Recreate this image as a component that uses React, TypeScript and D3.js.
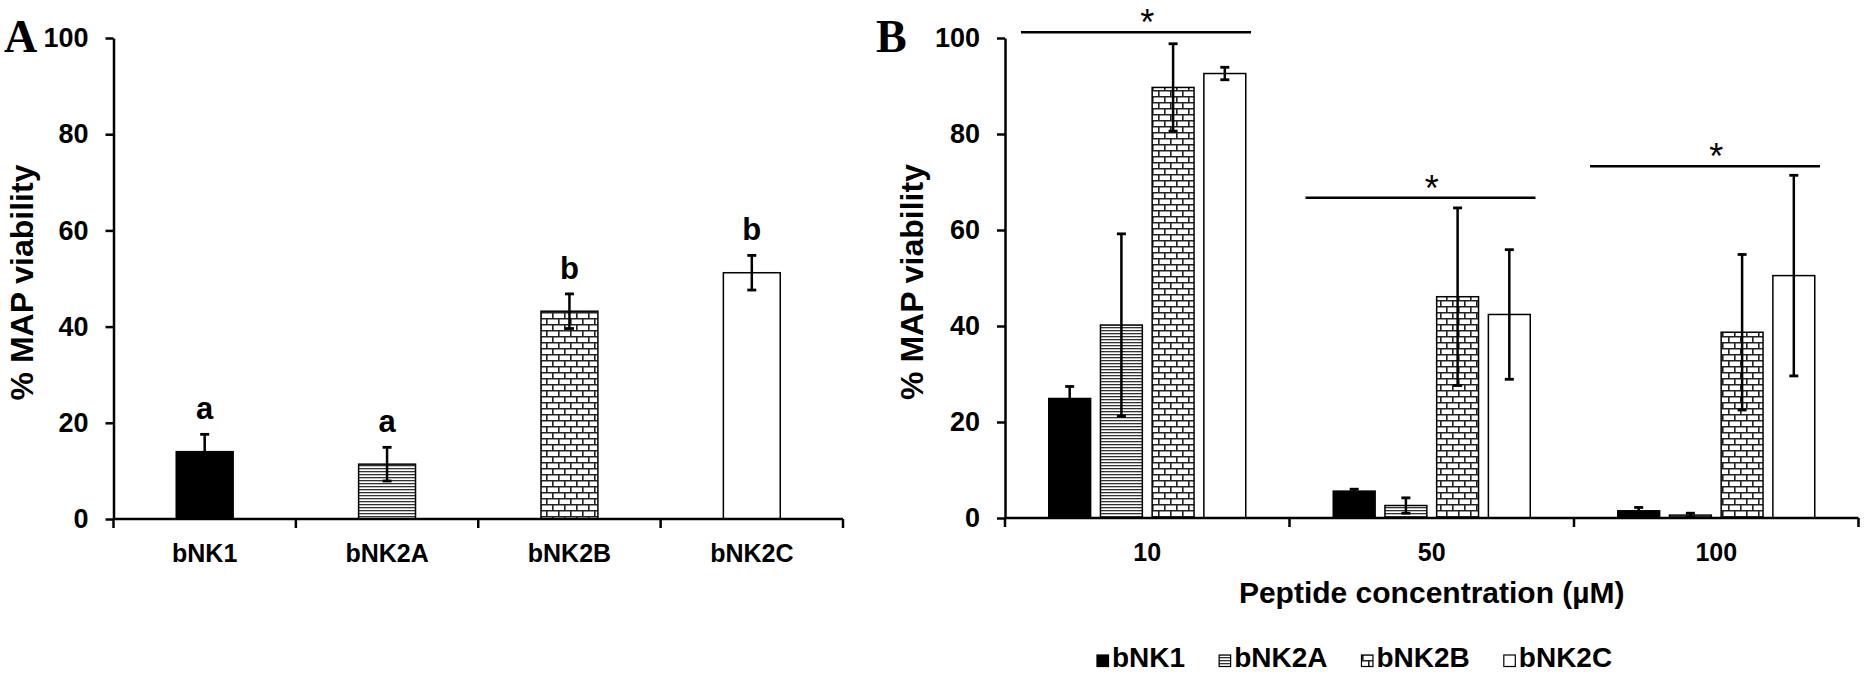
import React, { useEffect, useRef } from "react";
import * as d3 from "d3";

// ---------- Data ----------
const aCategories = ["bNK1", "bNK2A", "bNK2B", "bNK2C"];
const aMeans = [14.0, 11.4, 43.2, 51.2];
const aErrors = [3.6, 3.5, 3.6, 3.6];
const aLetters = ["a", "a", "b", "b"];

const yTicks = [0, 20, 40, 60, 80, 100];

const bConcentrations = ["10", "50", "100"];
const bSeries = ["bNK1", "bNK2A", "bNK2B", "bNK2C"];
const bNK1Means = [24.9, 5.6, 1.5];
const bNK1Errors = [2.5, 0.4, 0.7];
const bNK2AMeans = [40.2, 2.6, 0.6];
const bNK2AErrors = [19.0, 1.6, 0.4];
const bNK2BMeans = [89.7, 46.1, 38.7];
const bNK2BErrors = [9.1, 18.5, 16.2];
const bNK2CMeans = [92.6, 42.4, 50.5];
const bNK2CErrors = [1.3, 13.5, 20.9];
const sigLevels = [101.2, 66.7, 73.3];

const yLabel = "% MAP viability";
const bXLabel = "Peptide concentration (µM)";

const FONT = "'Liberation Sans', Arial, Helvetica, sans-serif";
const SERIF = "'Liberation Serif', 'Times New Roman', serif";

const fills: Record<string, string> = {
  bNK1: "#000",
  bNK2A: "url(#hlines)",
  bNK2B: "url(#bricks)",
  bNK2C: "#fff",
};

export default function App() {
  const ref = useRef<SVGSVGElement | null>(null);

  useEffect(() => {
    const svg = d3.select(ref.current!);
    svg.selectAll("*").remove();

    // patterns
    const defs = svg.append("defs");
    const hl = defs
      .append("pattern")
      .attr("id", "hlines")
      .attr("patternUnits", "userSpaceOnUse")
      .attr("width", 6)
      .attr("height", 3);
    hl.append("rect").attr("width", 6).attr("height", 3).attr("fill", "#fff");
    hl.append("rect").attr("width", 6).attr("height", 1.3).attr("fill", "#333");

    const br = defs
      .append("pattern")
      .attr("id", "bricks")
      .attr("patternUnits", "userSpaceOnUse")
      .attr("width", 12)
      .attr("height", 12);
    br.append("rect").attr("width", 12).attr("height", 12).attr("fill", "#fff");
    const bp = "M0,0.8H12M0,6.8H12M0.8,0V6.8M6.8,6.8V12";
    br.append("path").attr("d", bp).attr("stroke", "#222").attr("stroke-width", 1.6).attr("fill", "none");

    const styleAxis = (g: any) => {
      g.select(".domain").attr("stroke", "#000").attr("stroke-width", 2.5);
      g.selectAll(".tick line").attr("stroke", "#000").attr("stroke-width", 2.5);
      g.selectAll(".tick text")
        .attr("font-family", FONT)
        .attr("font-weight", "bold")
        .attr("font-size", 27)
        .attr("fill", "#000");
      g.attr("font-family", FONT);
    };

    const drawErr = (g: any, cx: number, yTop: number, yBot: number) => {
      g.append("line").attr("x1", cx).attr("x2", cx).attr("y1", yTop).attr("y2", yBot)
        .attr("stroke", "#000").attr("stroke-width", 2.5);
      [yTop, yBot].forEach((yy) =>
        g.append("line").attr("x1", cx - 4.5).attr("x2", cx + 4.5).attr("y1", yy).attr("y2", yy)
          .attr("stroke", "#000").attr("stroke-width", 2.8)
      );
    };

    // ---------------- Panel A ----------------
    const yA = d3.scaleLinear().domain([0, 100]).range([519, 38]);
    const xA = d3
      .scaleBand<string>()
      .domain(aCategories)
      .range([113.5, 843])
      .paddingInner(0.688)
      .paddingOuter(0.344);

    const gA = svg.append("g");
    aCategories.forEach((c, i) => {
      const x = xA(c)!;
      const w = xA.bandwidth();
      gA.append("rect")
        .attr("x", x).attr("y", yA(aMeans[i]))
        .attr("width", w).attr("height", yA(0) - yA(aMeans[i]))
        .attr("fill", fills[c]).attr("stroke", "#000").attr("stroke-width", 1.5);
      drawErr(gA, x + w / 2, yA(aMeans[i] + aErrors[i]), yA(aMeans[i] - aErrors[i]));
      gA.append("text")
        .attr("x", x + w / 2).attr("y", yA(aMeans[i] + aErrors[i]) - 15)
        .attr("text-anchor", "middle").attr("font-family", FONT)
        .attr("font-weight", "bold").attr("font-size", 31).text(aLetters[i]);
      gA.append("text")
        .attr("x", x + w / 2).attr("y", 561.5)
        .attr("text-anchor", "middle").attr("font-family", FONT)
        .attr("font-weight", "bold").attr("font-size", 25).text(c);
    });

    const axA = gA.append("g").attr("transform", "translate(113.5,0)")
      .call(d3.axisLeft(yA).tickValues(yTicks).tickSize(8).tickPadding(17).tickSizeOuter(0));
    styleAxis(axA);

    const [ax0, ax1] = xA.range();
    gA.append("line").attr("x1", ax0).attr("x2", ax1).attr("y1", yA(0)).attr("y2", yA(0))
      .attr("stroke", "#000").attr("stroke-width", 2.5);
    d3.range(aCategories.length + 1).forEach((i) => {
      const tx = ax0 + i * xA.step();
      gA.append("line").attr("x1", tx).attr("x2", tx).attr("y1", yA(0)).attr("y2", yA(0) + 9)
        .attr("stroke", "#000").attr("stroke-width", 2.5);
    });

    gA.append("text")
      .attr("transform", `translate(33,${(yA(0) + yA(100)) / 2 + 4}) rotate(-90)`)
      .attr("text-anchor", "middle").attr("font-family", FONT)
      .attr("font-weight", "bold").attr("font-size", 32).text(yLabel);

    gA.append("text").attr("x", 4).attr("y", 52).attr("font-family", SERIF)
      .attr("font-weight", "bold").attr("font-size", 46).text("A");

    // ---------------- Panel B ----------------
    const bMeans = [bNK1Means, bNK2AMeans, bNK2BMeans, bNK2CMeans];
    const bErrors = [bNK1Errors, bNK2AErrors, bNK2BErrors, bNK2CErrors];

    const yB = d3.scaleLinear().domain([0, 100]).range([518, 38]);
    const xB = d3.scaleBand<string>().domain(bConcentrations).range([1005, 1858.5]).padding(0);
    const xInner = d3
      .scaleBand<string>()
      .domain(bSeries)
      .range([0, xB.bandwidth()])
      .paddingInner(0.19)
      .paddingOuter(0.846);

    const gB = svg.append("g");
    bConcentrations.forEach((conc, gi) => {
      const gx = xB(conc)!;
      bSeries.forEach((s, si) => {
        const m = bMeans[si][gi];
        const e = bErrors[si][gi];
        const x = gx + xInner(s)!;
        const w = xInner.bandwidth();
        gB.append("rect")
          .attr("x", x).attr("y", yB(m))
          .attr("width", w).attr("height", yB(0) - yB(m))
          .attr("fill", fills[s]).attr("stroke", "#000").attr("stroke-width", 1.5);
        drawErr(gB, x + w / 2, yB(m + e), yB(Math.max(0, m - e)));
      });
      // significance line and asterisk
      const ly = yB(sigLevels[gi]);
      gB.append("line")
        .attr("x1", gx + 16).attr("x2", gx + 246)
        .attr("y1", ly).attr("y2", ly)
        .attr("stroke", "#000").attr("stroke-width", 2.5);
      gB.append("text")
        .attr("x", gx + xB.bandwidth() / 2).attr("y", ly + 3)
        .attr("text-anchor", "middle").attr("font-family", FONT)
        .attr("font-size", 36).text("*");
      gB.append("text")
        .attr("x", gx + xB.bandwidth() / 2).attr("y", 561)
        .attr("text-anchor", "middle").attr("font-family", FONT)
        .attr("font-weight", "bold").attr("font-size", 25).text(conc);
    });

    const axB = gB.append("g").attr("transform", "translate(1005,0)")
      .call(d3.axisLeft(yB).tickValues(yTicks).tickSize(8).tickPadding(17).tickSizeOuter(0));
    styleAxis(axB);

    const [bx0, bx1] = xB.range();
    gB.append("line").attr("x1", bx0).attr("x2", bx1).attr("y1", yB(0)).attr("y2", yB(0))
      .attr("stroke", "#000").attr("stroke-width", 2.5);
    d3.range(bConcentrations.length + 1).forEach((i) => {
      const tx = bx0 + i * xB.step();
      gB.append("line").attr("x1", tx).attr("x2", tx).attr("y1", yB(0)).attr("y2", yB(0) + 9)
        .attr("stroke", "#000").attr("stroke-width", 2.5);
    });

    gB.append("text")
      .attr("transform", `translate(923,${(yB(0) + yB(100)) / 2 + 4}) rotate(-90)`)
      .attr("text-anchor", "middle").attr("font-family", FONT)
      .attr("font-weight", "bold").attr("font-size", 32).text(yLabel);

    gB.append("text").attr("x", 876).attr("y", 52).attr("font-family", SERIF)
      .attr("font-weight", "bold").attr("font-size", 46).text("B");

    gB.append("text")
      .attr("x", (bx0 + bx1) / 2).attr("y", 603)
      .attr("text-anchor", "middle").attr("font-family", FONT)
      .attr("font-weight", "bold").attr("font-size", 30).text(bXLabel);

    // legend
    const lg = svg.append("g");
    let lx = 1097;
    bSeries.forEach((s) => {
      lg.append("rect").attr("x", lx).attr("y", 655).attr("width", 11.5).attr("height", 11.5)
        .attr("fill", fills[s]).attr("stroke", "#000").attr("stroke-width", 1.2);
      const t = lg.append("text").attr("x", lx + 15).attr("y", 667)
        .attr("font-family", FONT).attr("font-weight", "bold").attr("font-size", 28).text(s);
      const tw = (t.node() as SVGTextElement).getComputedTextLength();
      lx = lx + 15 + tw + 34;
    });
  }, []);

  return (
    <svg
      ref={ref}
      width={1864}
      height={674}
      style={{ position: "absolute", left: 0, top: 0, background: "#fff" }}
    />
  );
}
